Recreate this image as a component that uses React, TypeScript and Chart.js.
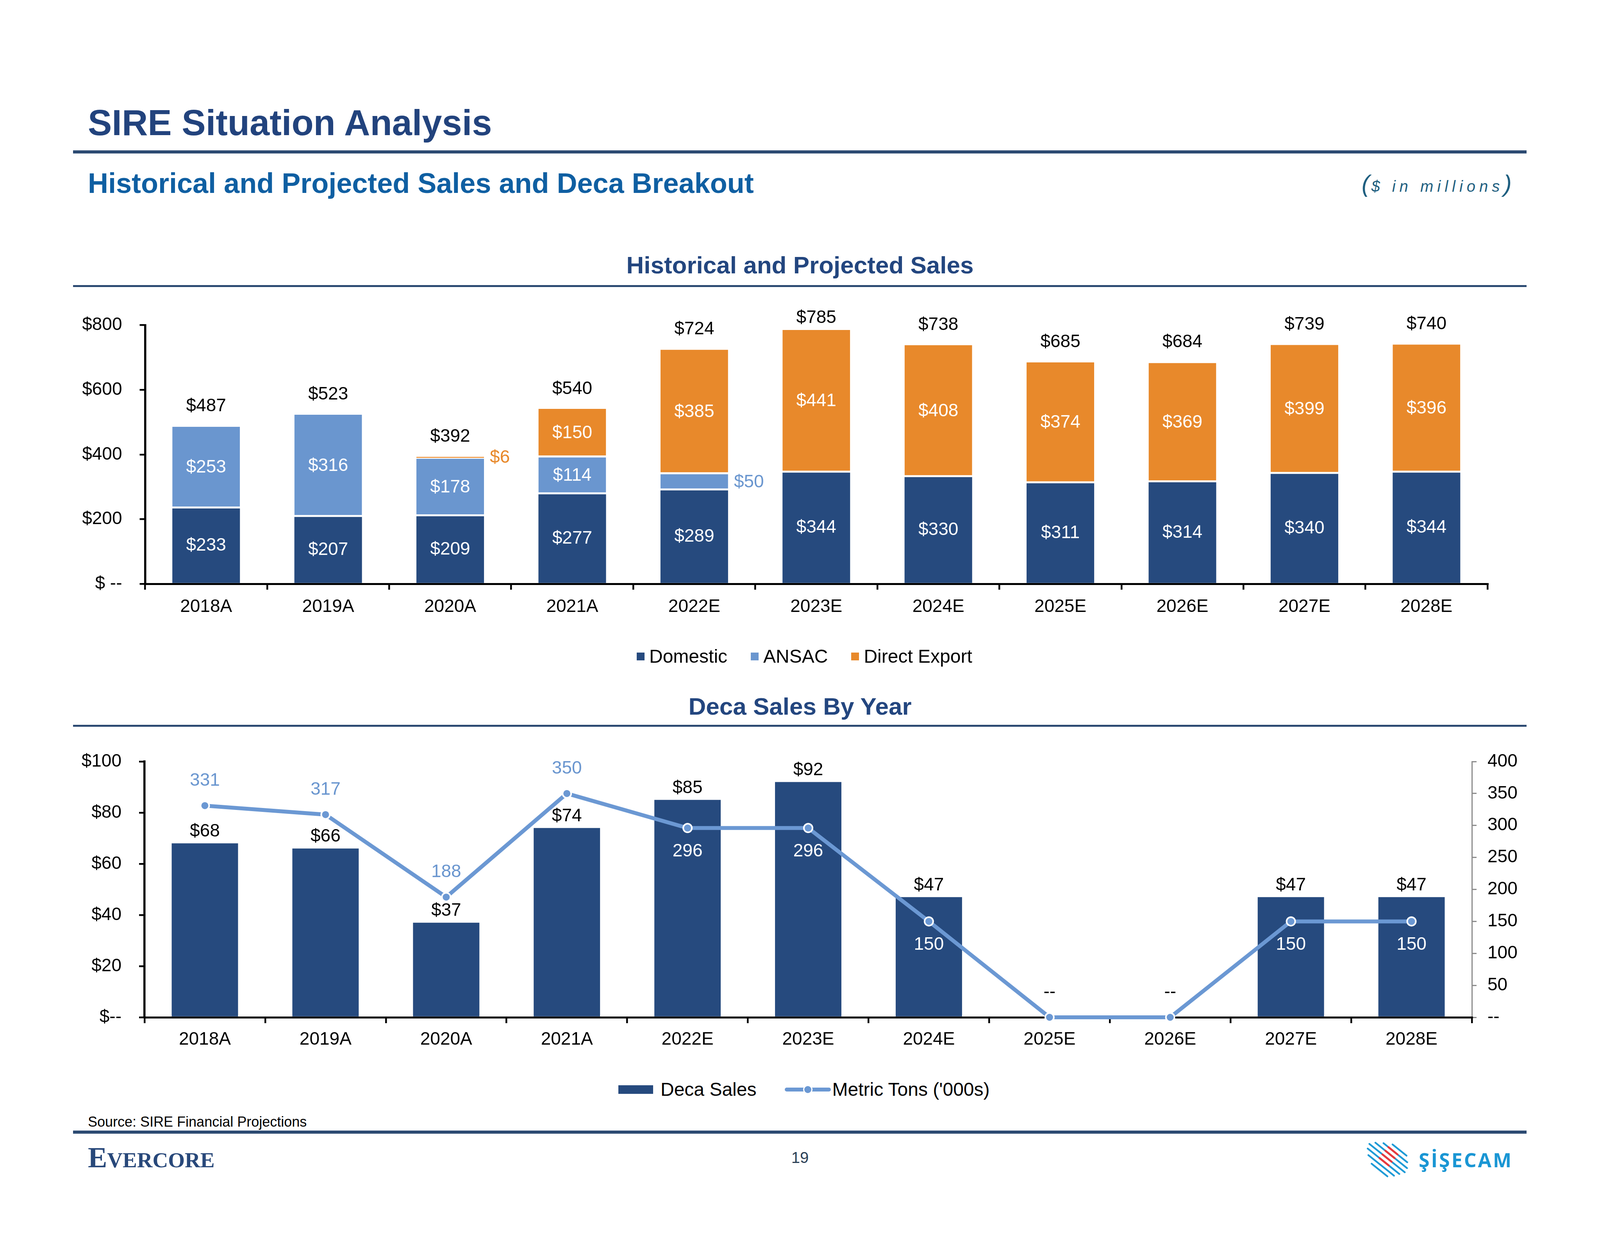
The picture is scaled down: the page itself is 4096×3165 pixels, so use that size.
import React, { useEffect, useRef } from 'react';
import { Chart, registerables } from 'chart.js';

Chart.register(...registerables);

const FONT = '"Liberation Sans", Arial, Helvetica, sans-serif';
Chart.defaults.font.family = FONT;
Chart.defaults.color = '#000';

// ---------- Historical and Projected Sales ----------
const salesYears = ['2018A', '2019A', '2020A', '2021A', '2022E', '2023E', '2024E', '2025E', '2026E', '2027E', '2028E'];
const domestic = [233, 207, 209, 277, 289, 344, 330, 311, 314, 340, 344];
const ansac = [253, 316, 178, 114, 50, 0, 0, 0, 0, 0, 0];
const directExport = [0, 0, 6, 150, 385, 441, 408, 374, 369, 399, 396];
const salesTotals = [487, 523, 392, 540, 724, 785, 738, 685, 684, 739, 740];
const salesSeriesNames = ['Domestic', 'ANSAC', 'Direct Export'];
const salesTickLabels = ['$ --', '$200', '$400', '$600', '$800'];

// ---------- Deca Sales By Year ----------
const decaYears = ['2018A', '2019A', '2020A', '2021A', '2022E', '2023E', '2024E', '2025E', '2026E', '2027E', '2028E'];
const decaSales = [68, 66, 37, 74, 85, 92, 47, 0, 0, 47, 47];
const metricTons = [331, 317, 188, 350, 296, 296, 150, 0, 0, 150, 150];
const decaSeriesNames = ['Deca Sales', "Metric Tons ('000s)"];
const decaTickLabels = ['$--', '$20', '$40', '$60', '$80', '$100'];
const tonsTickLabels = ['--', '50', '100', '150', '200', '250', '300', '350', '400'];

const NAVY = '#264A7E';
const LIGHT = '#6A96CF';
const ORANGE = '#E8892B';
const LINE = '#6B98D3';
const RULE = '#2C4A72';
const SALES_COLORS = [NAVY, LIGHT, ORANGE];

const LABEL_SIZE = 46;

const axisOverBars = {
  id: 'axisOverBars',
  afterDatasetDraw(chart: any, args: any) {
    const ds = chart.data.datasets[args.index];
    if (ds.type === 'line') return;
    const sx = chart.scales.x as any;
    if (sx && typeof sx.drawBorder === 'function') sx.drawBorder();
  },
};

const salesLabels = {
  id: 'salesLabels',
  afterDatasetsDraw(chart: any) {
    const { ctx, chartArea } = chart;
    const yScale = chart.scales.y;
    ctx.save();
    ctx.font = `${LABEL_SIZE}px ${FONT}`;
    ctx.textBaseline = 'middle';
    chart.data.datasets.forEach((ds: any, di: number) => {
      const meta = chart.getDatasetMeta(di);
      meta.data.forEach((bar: any, i: number) => {
        const v = ds.data[i];
        if (!v) return;
        const cy = (bar.y + bar.base) / 2;
        if (v < 60) {
          ctx.fillStyle = ds.backgroundColor;
          ctx.textAlign = 'left';
          ctx.fillText('$' + v, bar.x + bar.width / 2 + 15, cy);
        } else {
          ctx.fillStyle = '#fff';
          ctx.textAlign = 'center';
          ctx.fillText('$' + v, bar.x, cy);
        }
      });
    });
    const m0 = chart.getDatasetMeta(0);
    ctx.fillStyle = '#000';
    ctx.textAlign = 'center';
    salesTotals.forEach((t, i) => {
      const y = Math.max(yScale.getPixelForValue(t) - 52, chartArea.top - 18);
      ctx.fillText('$' + t, m0.data[i].x, y);
    });
    ctx.restore();
  },
};

const decaLabels = {
  id: 'decaLabels',
  afterDatasetsDraw(chart: any) {
    const { ctx } = chart;
    const bars = chart.getDatasetMeta(0).data;
    const pts = chart.getDatasetMeta(1).data;
    ctx.save();
    ctx.font = `${LABEL_SIZE}px ${FONT}`;
    ctx.textBaseline = 'middle';
    ctx.textAlign = 'center';
    decaSales.forEach((v, i) => {
      if (v > 0) {
        ctx.fillStyle = '#000';
        ctx.fillText('$' + v, bars[i].x, bars[i].y - 30);
      }
    });
    metricTons.forEach((t, i) => {
      const p = pts[i];
      const b = bars[i];
      if (t === 0) {
        ctx.fillStyle = '#000';
        ctx.fillText('--', p.x, p.y - 64);
      } else if (p.y < b.y) {
        ctx.fillStyle = LIGHT;
        ctx.fillText(String(t), p.x, p.y - 64);
      } else {
        ctx.fillStyle = '#fff';
        ctx.fillText(String(t), p.x, p.y + 60);
      }
    });
    ctx.restore();
  },
};

const xAxis = (padding: number, height: number) => ({
  offset: true,
  grid: { offset: true, drawOnChartArea: false, color: '#000', lineWidth: 4.5, tickLength: 15 },
  border: { color: '#000', width: 5 },
  ticks: { color: '#000', font: { size: LABEL_SIZE }, padding, maxRotation: 0, minRotation: 0, autoSkip: false },
  afterFit: (s: any) => { s.height = height; },
});

function SalesChart() {
  const ref = useRef<HTMLCanvasElement>(null);
  useEffect(() => {
    const upper = { top: 0, left: 0, right: 0, bottom: 5 };
    const chart = new Chart(ref.current as HTMLCanvasElement, {
      type: 'bar',
      data: {
        labels: salesYears,
        datasets: [
          { label: salesSeriesNames[0], data: domestic, backgroundColor: NAVY, borderWidth: 0 },
          { label: salesSeriesNames[1], data: ansac, backgroundColor: LIGHT, borderColor: '#fff', borderWidth: upper, borderSkipped: false },
          { label: salesSeriesNames[2], data: directExport, backgroundColor: ORANGE, borderColor: '#fff', borderWidth: upper, borderSkipped: false },
        ] as any,
      },
      options: {
        responsive: false,
        animation: false,
        devicePixelRatio: 1,
        events: [],
        layout: { padding: { left: 0, right: 288, top: 92.7, bottom: 45 }, autoPadding: false } as any,
        datasets: { bar: { barPercentage: 0.554, categoryPercentage: 1 } },
        plugins: { legend: { display: false }, tooltip: { enabled: false }, title: { display: false } },
        scales: {
          x: { stacked: true, ...xAxis(17, 120) } as any,
          y: {
            stacked: true,
            min: 0,
            max: 800,
            ticks: { stepSize: 200, color: '#000', font: { size: LABEL_SIZE }, padding: 45, callback: (_v: any, i: number) => salesTickLabels[i] },
            grid: { drawOnChartArea: false, color: '#000', lineWidth: 4.5, tickLength: 14 },
            border: { color: '#000', width: 5.5 },
            afterFit: (s: any) => { s.width = 371.5; },
          } as any,
        },
      },
      plugins: [axisOverBars, salesLabels],
    });
    return () => chart.destroy();
  }, []);
  return (
    <canvas
      ref={ref}
      width={4096}
      height={920}
      style={{ position: 'absolute', left: 0, top: 740, width: 4096, height: 920 }}
    />
  );
}

function DecaChart() {
  const ref = useRef<HTMLCanvasElement>(null);
  useEffect(() => {
    const chart = new Chart(ref.current as HTMLCanvasElement, {
      type: 'bar',
      data: {
        labels: decaYears,
        datasets: [
          { type: 'bar', label: decaSeriesNames[0], data: decaSales, backgroundColor: NAVY, borderWidth: 0, yAxisID: 'y', order: 2, barPercentage: 0.55, categoryPercentage: 1 },
          {
            type: 'line', label: decaSeriesNames[1], data: metricTons, borderColor: LINE, borderWidth: 10,
            pointRadius: 11, pointBorderWidth: 4, pointBackgroundColor: LINE, pointBorderColor: '#fff',
            yAxisID: 'y2', order: 1, clip: false, tension: 0,
          },
        ] as any,
      },
      options: {
        responsive: false,
        animation: false,
        devicePixelRatio: 1,
        events: [],
        layout: { padding: { left: 0, right: 128, top: 75, bottom: 25 }, autoPadding: false } as any,
        plugins: { legend: { display: false }, tooltip: { enabled: false }, title: { display: false } },
        scales: {
          x: xAxis(15, 110) as any,
          y: {
            position: 'left',
            min: 0,
            max: 100,
            ticks: { stepSize: 20, color: '#000', font: { size: LABEL_SIZE }, padding: 45, callback: (_v: any, i: number) => decaTickLabels[i] },
            grid: { drawOnChartArea: false, color: '#000', lineWidth: 4.5, tickLength: 14 },
            border: { color: '#000', width: 5.5 },
            afterFit: (s: any) => { s.width = 370; },
          } as any,
          y2: {
            type: 'linear',
            position: 'right',
            min: 0,
            max: 400,
            ticks: { stepSize: 50, color: '#000', font: { size: LABEL_SIZE }, padding: 28, callback: (_v: any, i: number) => tonsTickLabels[i] },
            grid: { drawOnChartArea: false, color: '#8C8C8C', lineWidth: 3, tickLength: 12 },
            border: { color: '#8C8C8C', width: 3 },
            afterFit: (s: any) => { s.width = 200; },
          } as any,
        },
      },
      plugins: [axisOverBars, decaLabels],
    });
    return () => chart.destroy();
  }, []);
  return (
    <canvas
      ref={ref}
      width={4096}
      height={865}
      style={{ position: 'absolute', left: 0, top: 1875, width: 4096, height: 865 }}
    />
  );
}

const Text = (p: { x: number; cy: number; size: number; children: React.ReactNode; center?: boolean; style?: React.CSSProperties }) => (
  <div
    style={{
      position: 'absolute',
      left: p.x,
      top: p.cy - p.size / 2,
      fontSize: p.size,
      lineHeight: `${p.size}px`,
      whiteSpace: 'nowrap',
      transform: p.center ? 'translateX(-50%)' : undefined,
      ...p.style,
    }}
  >
    {p.children}
  </div>
);

const Rule = ({ top, h }: { top: number; h: number }) => (
  <div style={{ position: 'absolute', left: 187, width: 3721, top, height: h, background: RULE }} />
);

function Logo() {
  const dx = 0.78, dy = 0.626;
  const nx = -0.626, ny = 0.78;
  const cx = 66, cy = 46;
  const lens = [46, 78, 104, 116, 104, 84, 52];
  const shifts = [8, 4, 0, -4, -6, -4, 0];
  const lines = lens.map((L, k) => {
    const o = (k - 3) * 12;
    const mx = cx + nx * o + dx * shifts[k];
    const my = cy + ny * o + dy * shifts[k];
    return { x1: mx - dx * L / 2, y1: my - dy * L / 2, x2: mx + dx * L / 2, y2: my + dy * L / 2 };
  });
  const reds = [1, 2, 3, 4].map((k) => {
    const o = (k - 3) * 12;
    const mx = cx + nx * o - dx * 4;
    const my = cy + ny * o - dy * 4;
    const L = 30;
    return { x1: mx - dx * L / 2, y1: my - dy * L / 2, x2: mx + dx * L / 2, y2: my + dy * L / 2 };
  });
  return (
    <>
      <svg width={140} height={96} style={{ position: 'absolute', left: 3488, top: 2922 }}>
        {lines.map((l, i) => (
          <line key={i} {...l} stroke="#1E9AD6" strokeWidth={4.5} strokeLinecap="round" />
        ))}
        {reds.map((l, i) => (
          <line key={'r' + i} {...l} stroke="#E8383D" strokeWidth={5} strokeLinecap="round" />
        ))}
      </svg>
      <Text x={3632} cy={2970} size={50} style={{ fontFamily: '"Open Sans", "Noto Sans", sans-serif', fontWeight: 700, color: '#1A96D4', letterSpacing: 4 }}>
        ŞİŞECAM
      </Text>
    </>
  );
}

export default function App() {
  return (
    <div
      style={{
        position: 'absolute',
        left: 0,
        top: 0,
        width: 4096,
        height: 3165,
        overflow: 'hidden',
        background: '#fff',
        fontFamily: FONT,
        color: '#000',
      }}
    >
      <Text x={225} cy={314} size={92} style={{ fontWeight: 700, color: '#22437D' }}>SIRE Situation Analysis</Text>
      <Rule top={385} h={8} />
      <Text x={225} cy={469} size={72} style={{ fontWeight: 700, color: '#0F5FA2' }}>Historical and Projected Sales and Deca Breakout</Text>
      <div
        style={{
          position: 'absolute',
          right: 4096 - 3880,
          top: 470 - 32,
          height: 64,
          lineHeight: '64px',
          fontSize: 40,
          fontStyle: 'italic',
          letterSpacing: 10,
          color: '#1F5F80',
          whiteSpace: 'nowrap',
        }}
      >
        <span style={{ fontSize: 62, fontWeight: 300, letterSpacing: 4 }}>(</span>$ in millions<span style={{ fontSize: 62, fontWeight: 300 }}>)</span>
      </div>

      <Text x={2048} cy={679} size={62} center style={{ fontWeight: 700, color: '#23467F' }}>Historical and Projected Sales</Text>
      <Rule top={730} h={5} />
      <SalesChart />
      <div style={{ position: 'absolute', left: 1630, top: 1681 - 29, height: 58, display: 'flex', alignItems: 'center', fontSize: 48, lineHeight: '58px', whiteSpace: 'nowrap' }}>
        {salesSeriesNames.map((n, i) => (
          <div key={n} style={{ display: 'flex', alignItems: 'center', marginRight: 60 }}>
            <span style={{ display: 'inline-block', width: 20, height: 20, background: SALES_COLORS[i], marginRight: 12 }} />
            <span>{n}</span>
          </div>
        ))}
      </div>

      <Text x={2048} cy={1809} size={62} center style={{ fontWeight: 700, color: '#23467F' }}>Deca Sales By Year</Text>
      <Rule top={1856} h={5} />
      <DecaChart />
      <div style={{ position: 'absolute', left: 1583, top: 2790 - 29, height: 58, display: 'flex', alignItems: 'center', fontSize: 48, lineHeight: '58px', whiteSpace: 'nowrap' }}>
        <span style={{ display: 'inline-block', width: 89, height: 22, background: NAVY, marginRight: 19 }} />
        <span style={{ marginRight: 73 }}>{decaSeriesNames[0]}</span>
        <span style={{ position: 'relative', display: 'inline-block', width: 118, height: 24, marginRight: 3 }}>
          <span style={{ position: 'absolute', left: 0, top: 7, width: 118, height: 10, background: LINE, borderRadius: 5 }} />
          <span style={{ position: 'absolute', left: 47, top: 0, width: 18, height: 18, background: LINE, border: '3px solid #fff', borderRadius: '50%' }} />
        </span>
        <span>{decaSeriesNames[1]}</span>
      </div>

      <Text x={225} cy={2873} size={36}>Source: SIRE Financial Projections</Text>
      <Rule top={2895} h={8} />
      <div
        style={{
          position: 'absolute',
          left: 225,
          top: 2927,
          display: 'flex',
          alignItems: 'baseline',
          fontFamily: '"Liberation Serif", "Times New Roman", serif',
          fontWeight: 700,
          color: '#28487A',
          fontSize: 74,
          lineHeight: '74px',
          whiteSpace: 'nowrap',
        }}
      >
        <span>E</span>
        <span style={{ fontSize: 55 }}>VERCORE</span>
      </div>
      <Text x={2048} cy={2964} size={40} center style={{ color: '#2B3F55' }}>19</Text>
      <Logo />
    </div>
  );
}
